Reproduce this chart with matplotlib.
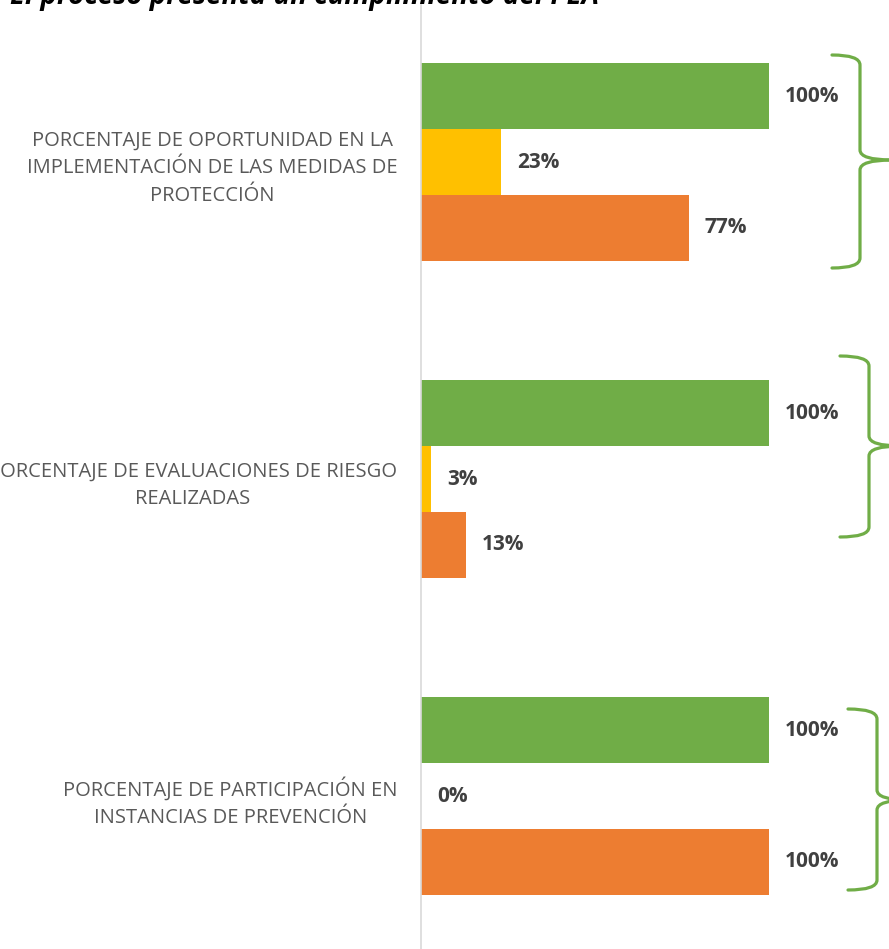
import matplotlib
matplotlib.use("Agg")
import matplotlib.pyplot as plt
import numpy as np
from matplotlib.path import Path
from matplotlib.patches import PathPatch

plt.rcParams["font.family"] = ["Open Sans", "DejaVu Sans"]

categorias = [
    "PORCENTAJE DE OPORTUNIDAD EN LA\nIMPLEMENTACIÓN DE LAS MEDIDAS DE\nPROTECCIÓN",
    "PORCENTAJE DE EVALUACIONES DE RIESGO\nREALIZADAS",
    "PORCENTAJE DE PARTICIPACIÓN EN\nINSTANCIAS DE PREVENCIÓN",
]
serie_verde = [100, 100, 100]
serie_amarilla = [23, 3, 0]
serie_naranja = [77, 13, 100]
titulo = "El proceso presenta un cumplimiento del PEA"

W, H = 889, 949
fig = plt.figure(figsize=(W / 100, H / 100), dpi=100)

ax = fig.add_axes([421 / W, 1 - 954.5 / H, (W - 421) / W, 951 / H])
y = np.arange(len(categorias))
h = 0.208
series = [
    (serie_verde, "#70AD47", -h),
    (serie_amarilla, "#FFC000", 0),
    (serie_naranja, "#ED7D31", h),
]
for vals, color, off in series:
    bars = ax.barh(y + off, vals, height=h, color=color, linewidth=0)
    ax.bar_label(bars, labels=[f"{v:.0f}%" for v in vals], padding=11.5,
                 fontsize=15, fontweight="bold", color="#404040")

ax.set_xlim(0, (W - 421) / 3.48)
ax.set_ylim(2.5, -0.5)
ax.set_xticks([])
ax.set_yticks(y)
ax.set_yticklabels(categorias, fontsize=14.5, color="#595959")
for lbl in ax.get_yticklabels():
    lbl.set_multialignment("center")
    lbl.set_linespacing(1.5)
ax.tick_params(axis="y", length=0, pad=17)
for s in ["top", "right", "bottom"]:
    ax.spines[s].set_visible(False)
ax.spines["left"].set_color("#D9D9D9")
ax.spines["left"].set_linewidth(1.2)

# overlay in pixel coordinates for the title and the braces
ov = fig.add_axes([0, 0, 1, 1], facecolor="none")
ov.set_xlim(0, W)
ov.set_ylim(H, 0)
ov.axis("off")

ov.text(10, 4, titulo, fontsize=20, fontweight="bold", style="italic",
        color="black", va="baseline", ha="left")


def llave(xl, yt, yb, xv, yc, r=10, tip=32):
    codes = [Path.MOVETO, Path.CURVE3, Path.CURVE3,
             Path.LINETO, Path.CURVE3, Path.CURVE3]
    for ye, s in [(yt, 1), (yb, -1)]:
        verts = [
            (xl, ye), (xv, ye), (xv, ye + s * r),
            (xv, yc - s * r), (xv, yc), (xv + tip, yc),
        ]
        ov.add_patch(PathPatch(Path(verts, codes), fill=False, ec="#70AD47",
                               lw=2.3, capstyle="round"))


llave(832, 55, 268, 860, 160)
llave(840, 356, 537, 869, 446)
llave(848, 709, 890, 877, 800)

fig.savefig("out.png", dpi=100)
